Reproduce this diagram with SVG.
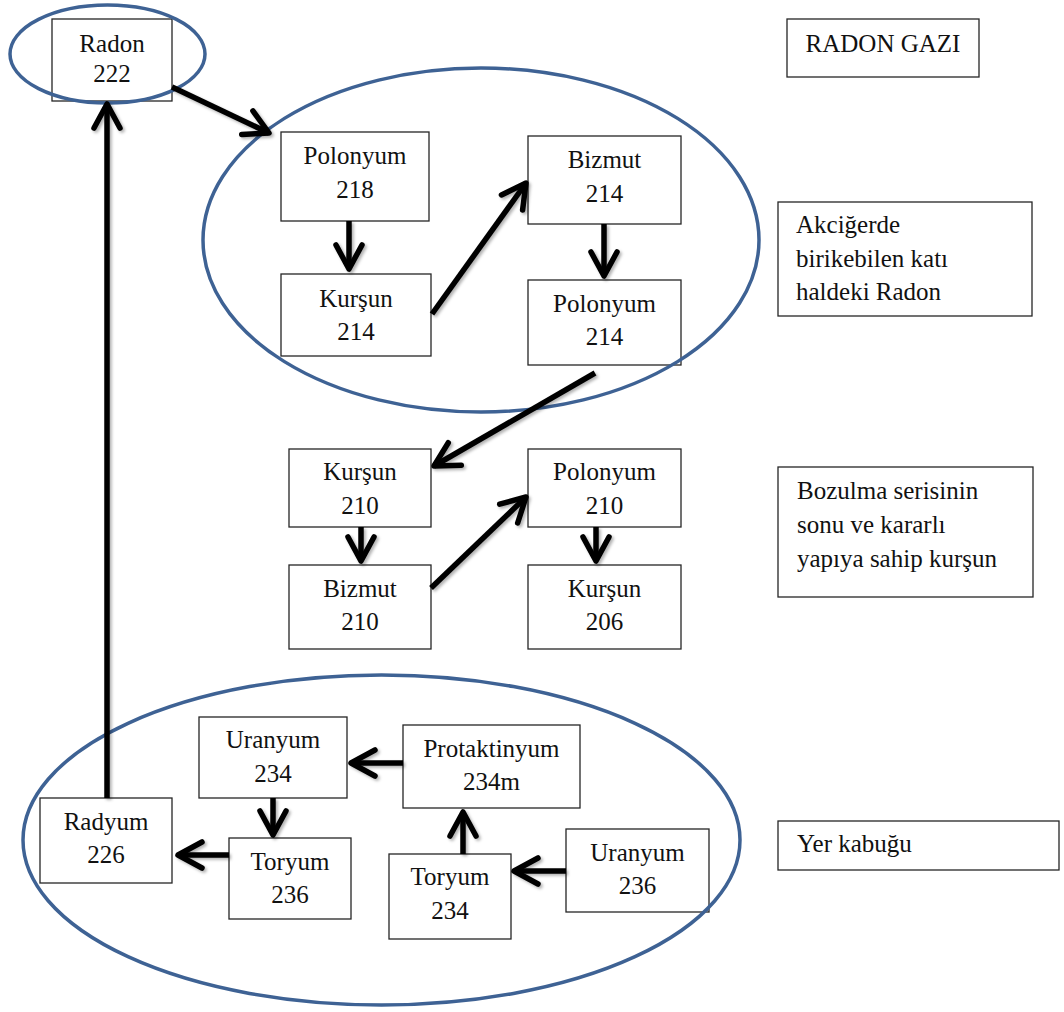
<svg xmlns="http://www.w3.org/2000/svg" width="1064" height="1012" viewBox="0 0 1064 1012">
<style>
.box{fill:#fff;stroke:#262626;stroke-width:1.3}
text{font-family:'Liberation Serif',Tinos,'Noto Serif','Nimbus Roman','Nimbus Roman No9 L',FreeSerif,'DejaVu Serif','Times New Roman',Times,serif;font-size:25px;fill:#111}
.t{text-anchor:middle}
.ring{fill:none;stroke:#3e6294;stroke-width:3.5}
.arr{fill:none;stroke:#000;stroke-width:5.5;marker-end:url(#ah)}
</style>
<defs>
<marker id="ah" markerUnits="userSpaceOnUse" viewBox="-40 -20 50 40" refX="0" refY="0" markerWidth="50" markerHeight="40" orient="auto" overflow="visible">
<path d="M-24,-13 L0,0 L-24,13" fill="none" stroke="#000" stroke-width="5.5" stroke-linecap="round" stroke-linejoin="round"/>
</marker>
<filter id="sh" x="-10%" y="-10%" width="130%" height="130%">
<feDropShadow dx="2" dy="2" stdDeviation="1.5" flood-color="#000" flood-opacity="0.3"/>
</filter>
</defs>
<rect width="1064" height="1012" fill="#fff"/>

<g id="radon222"><rect class="box" x="52" y="19" width="120" height="82"/><text class="t" x="112" y="52">Radon</text><text class="t" x="112" y="82">222</text></g>
<g id="polonyum218"><rect class="box" x="281" y="132" width="148" height="89"/><text class="t" x="355" y="164">Polonyum</text><text class="t" x="355" y="198">218</text></g>
<g id="kursun214"><rect class="box" x="281" y="274" width="150" height="82"/><text class="t" x="356" y="307">Kurşun</text><text class="t" x="356" y="340">214</text></g>
<g id="bizmut214"><rect class="box" x="528" y="136" width="153" height="88"/><text class="t" x="604.5" y="168">Bizmut</text><text class="t" x="604.5" y="202">214</text></g>
<g id="polonyum214"><rect class="box" x="528" y="280" width="153" height="85"/><text class="t" x="604.5" y="312">Polonyum</text><text class="t" x="604.5" y="345">214</text></g>
<g id="kursun210"><rect class="box" x="289" y="449" width="142" height="78"/><text class="t" x="360" y="480">Kurşun</text><text class="t" x="360" y="514">210</text></g>
<g id="polonyum210"><rect class="box" x="528" y="449" width="153" height="78"/><text class="t" x="604.5" y="480">Polonyum</text><text class="t" x="604.5" y="514">210</text></g>
<g id="bizmut210"><rect class="box" x="289" y="565" width="142" height="84"/><text class="t" x="360" y="597">Bizmut</text><text class="t" x="360" y="630">210</text></g>
<g id="kursun206"><rect class="box" x="528" y="565" width="153" height="84"/><text class="t" x="604.5" y="597">Kurşun</text><text class="t" x="604.5" y="630">206</text></g>
<g id="uranyum234"><rect class="box" x="199" y="717" width="148" height="81"/><text class="t" x="273" y="748">Uranyum</text><text class="t" x="273" y="782">234</text></g>
<g id="radyum226"><rect class="box" x="40" y="798" width="132" height="85"/><text class="t" x="106" y="830">Radyum</text><text class="t" x="106" y="863">226</text></g>
<g id="toryum236"><rect class="box" x="229" y="838" width="122" height="81"/><text class="t" x="290" y="870">Toryum</text><text class="t" x="290" y="903">236</text></g>
<g id="protaktinyum234m"><rect class="box" x="403" y="725" width="177" height="83"/><text class="t" x="491.5" y="757">Protaktinyum</text><text class="t" x="491.5" y="790">234m</text></g>
<g id="toryum234"><rect class="box" x="389" y="854" width="122" height="85"/><text class="t" x="450" y="885">Toryum</text><text class="t" x="450" y="919">234</text></g>
<g id="uranyum236"><rect class="box" x="566" y="829" width="143" height="83"/><text class="t" x="637.5" y="861">Uranyum</text><text class="t" x="637.5" y="894">236</text></g>

<g id="label-radon-gazi"><rect class="box" x="787" y="19" width="192" height="58"/><text class="t" x="883" y="52">RADON GAZI</text></g>
<g id="label-akciger"><rect class="box" x="778" y="202" width="254" height="114"/><text x="796" y="233">Akciğerde</text><text x="796" y="267">birikebilen katı</text><text x="796" y="300">haldeki Radon</text></g>
<g id="label-bozulma"><rect class="box" x="778" y="467" width="255" height="130"/><text x="797" y="499">Bozulma serisinin</text><text x="797" y="533">sonu ve kararlı</text><text x="797" y="567">yapıya sahip kurşun</text></g>
<g id="label-yer"><rect class="box" x="778" y="821" width="281" height="49"/><text x="797" y="852">Yer kabuğu</text></g>

<g id="regions">
<ellipse class="ring" cx="107.5" cy="54" rx="97.5" ry="49"/>
<ellipse class="ring" cx="481" cy="240" rx="278" ry="172"/>
<ellipse class="ring" cx="381.5" cy="840" rx="358.5" ry="165"/>
</g>

<g id="connectors" filter="url(#sh)">
<line class="arr" x1="172" y1="87" x2="269" y2="133"/>
<line class="arr" x1="349" y1="221" x2="349" y2="269"/>
<line class="arr" x1="432" y1="314" x2="526" y2="183"/>
<line class="arr" x1="604" y1="224" x2="604" y2="276"/>
<line class="arr" x1="595" y1="373" x2="434" y2="466"/>
<line class="arr" x1="361" y1="527" x2="361" y2="561"/>
<line class="arr" x1="431" y1="588" x2="526" y2="497"/>
<line class="arr" x1="596" y1="527" x2="596" y2="561"/>
<line class="arr" x1="107" y1="798" x2="107" y2="104"/>
<line class="arr" x1="273" y1="798" x2="273" y2="835"/>
<line class="arr" x1="229" y1="855" x2="178" y2="855"/>
<line class="arr" x1="403" y1="763" x2="351" y2="763"/>
<line class="arr" x1="463" y1="854" x2="463" y2="812"/>
<line class="arr" x1="566" y1="871" x2="514" y2="871"/>
</g>
</svg>
